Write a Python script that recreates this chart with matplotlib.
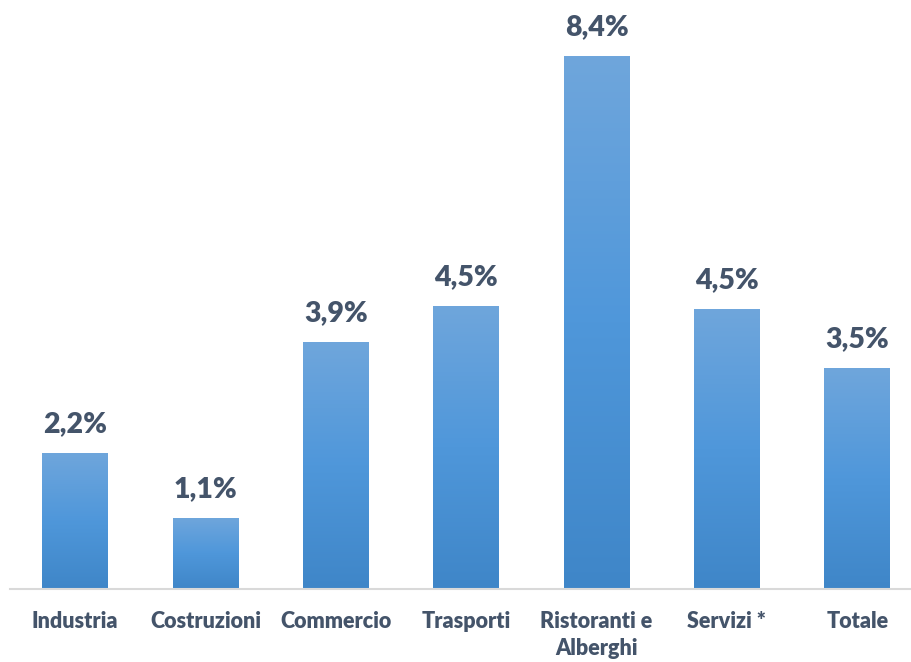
import numpy as np
import matplotlib
matplotlib.use("Agg")
import matplotlib.pyplot as plt
from matplotlib.colors import LinearSegmentedColormap

plt.rcParams['font.family'] = ['Lato', 'DejaVu Sans']

categories = ['Industria', 'Costruzioni', 'Commercio', 'Trasporti',
              'Ristoranti e\nAlberghi', 'Servizi *', 'Totale']
values = [2.15, 1.12, 3.89, 4.47, 8.4, 4.41, 3.48]
labels = ['2,2%', '1,1%', '3,9%', '4,5%', '8,4%', '4,5%', '3,5%']

TEXT = '#44546A'
grad = LinearSegmentedColormap.from_list('bar', ['#3F86C8', '#4F97DA', '#6FA6DC'])

fig = plt.figure(figsize=(9.12, 6.62), dpi=100)
ax = fig.add_axes([10 / 912, 73 / 662, 902 / 912, 579 / 662])

x = np.arange(len(categories))
bars = ax.bar(x, values, width=0.505, color='none', zorder=2)

# vertical gradient fill clipped to each bar
g = np.linspace(0, 1, 256).reshape(-1, 1)
for b in bars:
    x0, w, h = b.get_x(), b.get_width(), b.get_height()
    im = ax.imshow(g, cmap=grad, origin='lower', aspect='auto',
                   extent=[x0, x0 + w, 0, h], zorder=2)
    im.set_clip_path(b)

for xi, v, lab in zip(x, values, labels):
    ax.text(xi, v + 0.25, lab, ha='center', va='bottom', fontsize=20.5,
            fontweight='heavy', color=TEXT)

ax.set_xlim(-0.5, 6.42)
ax.set_ylim(0, 9.13)
ax.set_xticks(x)
ax.set_xticklabels(categories, fontsize=15.5, fontweight='heavy', color=TEXT,
                   linespacing=1.35)
ax.tick_params(axis='x', length=0, pad=16)
ax.set_yticks([])
for s in ['top', 'right', 'left']:
    ax.spines[s].set_visible(False)
ax.spines['bottom'].set_color('#D9D9D9')
ax.spines['bottom'].set_linewidth(1.5)

fig.savefig('out.png', dpi=100)
